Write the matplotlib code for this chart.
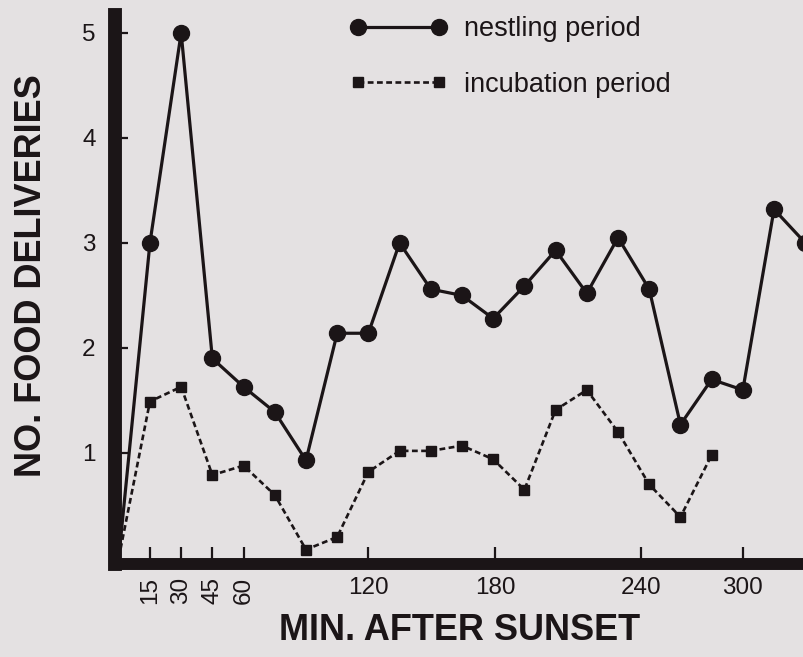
import matplotlib.pyplot as plt
from matplotlib.lines import Line2D

# food deliveries per 15 min bin after sunset
minutes_nestling = [0, 15, 30, 45, 60, 75, 90, 105, 120, 135, 150, 165,
                    180, 195, 210, 225, 240, 255, 270, 285, 300, 315, 330]
nestling = [0, 3.0, 5.0, 1.90, 1.63, 1.39, 0.93, 2.14, 2.14, 3.0, 2.56, 2.50,
            2.28, 2.59, 2.93, 2.52, 3.05, 2.56, 1.27, 1.70, 1.60, 3.32, 3.0]

minutes_incubation = [0, 15, 30, 45, 60, 75, 90, 105, 120, 135, 150, 165,
                      180, 195, 210, 225, 240, 255, 270, 285]
incubation = [0, 1.49, 1.63, 0.79, 0.88, 0.60, 0.08, 0.20, 0.82, 1.02, 1.02,
              1.07, 0.94, 0.65, 1.41, 1.60, 1.20, 0.70, 0.39, 0.98]

# tick marks as drawn on the original axis (240 sits a bit right of true)
xtick_pos = [15, 30, 45, 60, 120, 181, 251, 300]
xtick_labels = ['15', '30', '45', '60', '120', '180', '240', '300']
ytick_vals = [1, 2, 3, 4, 5]

ink = '#1b1517'
bg = '#e4e1e2'

plt.rcParams['font.family'] = ['Liberation Sans', 'DejaVu Sans']

fig = plt.figure(figsize=(8.04, 6.57), dpi=100, facecolor=bg)
ax = fig.add_axes([115 / 804, 93 / 657, 689 / 804, 549 / 657])
ax.set_facecolor(bg)

ax.plot(minutes_nestling, nestling, color=ink, lw=2.3, marker='o', ms=11.5,
        markevery=slice(1, None))
ax.plot(minutes_incubation, incubation, color=ink, lw=1.9, ls=(0, (2.2, 1.3)),
        marker='s', ms=7.3, markevery=slice(1, None))

ax.set_xlim(-1.8, 329.4)
ax.set_ylim(-0.057, 5.17)

for side in ['top', 'right']:
    ax.spines[side].set_visible(False)
ax.spines['left'].set_linewidth(10)
ax.spines['bottom'].set_linewidth(8.6)
for side in ['left', 'bottom']:
    ax.spines[side].set_color(ink)

ax.set_xticks(xtick_pos, xtick_labels)
ax.set_yticks(ytick_vals, [str(v) for v in ytick_vals])
for lab in ax.get_xticklabels()[:4]:
    lab.set_rotation(90)
ax.tick_params(axis='x', direction='in', length=12, width=1.6, color=ink,
               labelsize=17.5, pad=9, labelcolor=ink)
ax.tick_params(axis='y', direction='in', length=9, width=1.6, color=ink,
               labelsize=17.5, pad=14, labelcolor=ink)

ax.set_xlabel('MIN. AFTER SUNSET', fontsize=26, fontweight='bold', color=ink)
ax.set_ylabel('NO. FOOD DELIVERIES', fontsize=26, fontweight='bold', color=ink)
ax.xaxis.set_label_coords(0.5, -0.09)
ax.yaxis.set_label_coords(-0.096, 0.525)

handles = [
    Line2D([], [], color=ink, lw=2.3, marker='o', ms=11.5),
    Line2D([], [], color=ink, lw=1.9, ls=(0, (2.2, 1.3)), marker='s', ms=7.3),
]
fig.legend(handles, ['nestling period', 'incubation period'],
           loc='upper left', bbox_to_anchor=(350 / 804, 1 - 16 / 657),
           frameon=False, fontsize=19.5, numpoints=2, handlelength=3.6,
           handletextpad=0.6, labelspacing=1.1, borderpad=0, borderaxespad=0,
           labelcolor=ink)

fig.savefig('out.png', dpi=100, facecolor=bg)
